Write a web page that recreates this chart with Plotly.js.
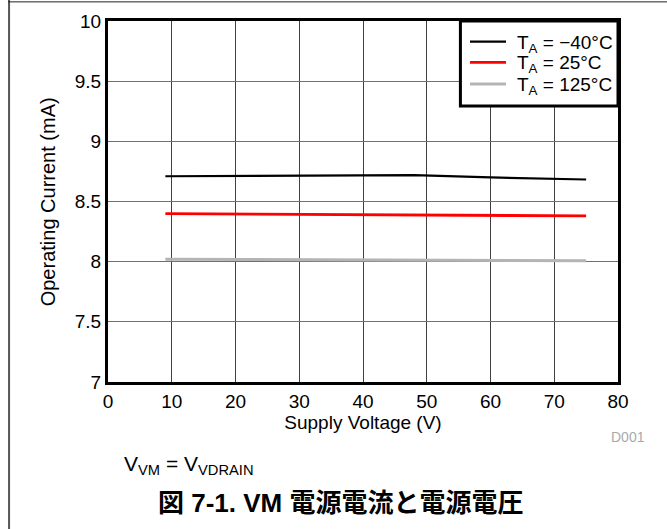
<!DOCTYPE html>
<html>
<head>
<meta charset="utf-8">
<script src="https://cdn.plot.ly/plotly-3.0.1.min.js"></script>
<style>
  html, body { margin: 0; padding: 0; background: #fff; }
  #chart { width: 667px; height: 529px; }
</style>
</head>
<body>
<div id="chart"></div>
<script>
// Supply voltage sweep (V)
const voltage = [9, 20, 30, 40, 48, 60, 70, 75];
// Operating current (mA) at each ambient temperature
const currentMinus40 = [8.71, 8.713, 8.716, 8.718, 8.72, 8.70, 8.688, 8.683];
const current25 = [8.40, 8.397, 8.395, 8.393, 8.391, 8.387, 8.383, 8.38];
const current125 = [8.02, 8.018, 8.016, 8.014, 8.012, 8.01, 8.008, 8.007];

const seriesNames = ['T<sub>A</sub> = \u221240\u00B0C', 'T<sub>A</sub> = 25\u00B0C', 'T<sub>A</sub> = 125\u00B0C'];
const seriesColors = ['#000000', '#ff0000', '#b4b4b4'];
const seriesWidths = [2.2, 2.8, 3];

const xTicks = [0, 10, 20, 30, 40, 50, 60, 70, 80];
const yTicks = [7, 7.5, 8, 8.5, 9, 9.5, 10];
const yTickText = ['7', '7.5', '8', '8.5', '9', '9.5', '10'];

const font = 'Liberation Sans, Arial, Helvetica, sans-serif';

const traces = [currentMinus40, current25, current125].map((ys, i) => ({
  x: voltage,
  y: ys,
  type: 'scatter',
  mode: 'lines',
  name: seriesNames[i],
  showlegend: false,
  line: { color: seriesColors[i], width: seriesWidths[i] }
}));

// Key box in the upper-right corner of the plot (paper coordinates)
const key = { x0: 0.691, lineX0: 0.7098, lineX1: 0.7804, textX: 0.798, rows: [0.9427, 0.8856, 0.8255] };

const keyShapes = [
  { type: 'rect', xref: 'paper', yref: 'paper', x0: key.x0, x1: 1, y0: 0.7645, y1: 1,
    fillcolor: '#ffffff', line: { color: '#000', width: 3 }, layer: 'above' }
].concat(seriesNames.map((_, i) => ({
  type: 'line', xref: 'paper', yref: 'paper', x0: key.lineX0, x1: key.lineX1,
  y0: key.rows[i], y1: key.rows[i], layer: 'above',
  line: { color: seriesColors[i], width: seriesWidths[i] }
})));

const keyLabels = seriesNames.map((name, i) => ({
  text: name, xref: 'paper', yref: 'paper', x: key.textX, y: key.rows[i] - 0.006,
  xanchor: 'left', yanchor: 'middle', showarrow: false,
  font: { family: font, size: 19, color: '#000' }
}));

const layout = {
  width: 667,
  height: 529,
  margin: { l: 108, r: 49, t: 21, b: 147 },
  paper_bgcolor: '#ffffff',
  plot_bgcolor: '#ffffff',
  font: { family: font, size: 19, color: '#000' },
  showlegend: false,
  xaxis: {
    range: [0, 80],
    tickvals: xTicks,
    ticks: '',
    showgrid: true,
    gridcolor: '#404040',
    gridwidth: 1,
    zeroline: false,
    showline: true,
    linecolor: '#000',
    linewidth: 3,
    mirror: true,
    tickfont: { family: font, size: 19 },
    title: { text: 'Supply Voltage (V)', font: { family: font, size: 19 }, standoff: 5 }
  },
  yaxis: {
    range: [7, 10],
    tickvals: yTicks,
    ticktext: yTickText,
    ticks: '',
    showgrid: true,
    gridcolor: '#707070',
    gridwidth: 1.3,
    zeroline: false,
    showline: true,
    linecolor: '#000',
    linewidth: 3,
    mirror: true,
    tickfont: { family: font, size: 19 }
  },
  shapes: [
    // page frame: left and top rules
    { type: 'line', xref: 'paper', yref: 'paper', x0: -0.194, x1: -0.194, y0: 1.06, y1: -0.5,
      line: { color: '#555', width: 2 } },
    { type: 'line', xref: 'paper', yref: 'paper', x0: -0.196, x1: 1.2, y0: 1.053, y1: 1.053,
      line: { color: '#222', width: 1 } }
  ].concat(keyShapes),
  annotations: [
    { text: 'Operating Current (mA)', xref: 'paper', yref: 'paper', x: -0.118, y: 0.5,
      xanchor: 'center', yanchor: 'middle', textangle: -90, showarrow: false,
      font: { family: font, size: 20, color: '#000' } },
    { text: 'D001', xref: 'paper', yref: 'paper', x: 1.02, y: -0.152, xanchor: 'center', yanchor: 'middle',
      showarrow: false, font: { family: font, size: 14, color: '#aaaaaa' } },
    { text: 'V<sub>VM</sub> = V<sub>VDRAIN</sub>', xref: 'paper', yref: 'paper', x: 0.027, y: -0.23,
      xanchor: 'left', yanchor: 'middle', showarrow: false, font: { family: font, size: 21, color: '#000' } },
    { text: '<b>図 7-1. VM 電源電流と電源電圧</b>', xref: 'paper', yref: 'paper', x: 0.455, y: -0.335,
      xanchor: 'center', yanchor: 'middle', showarrow: false,
      font: { family: 'Liberation Sans, Noto Sans CJK JP, sans-serif', size: 26, color: '#000' } }
  ].concat(keyLabels)
};

Plotly.newPlot('chart', traces, layout, { displayModeBar: false, staticPlot: true });
</script>
</body>
</html>
